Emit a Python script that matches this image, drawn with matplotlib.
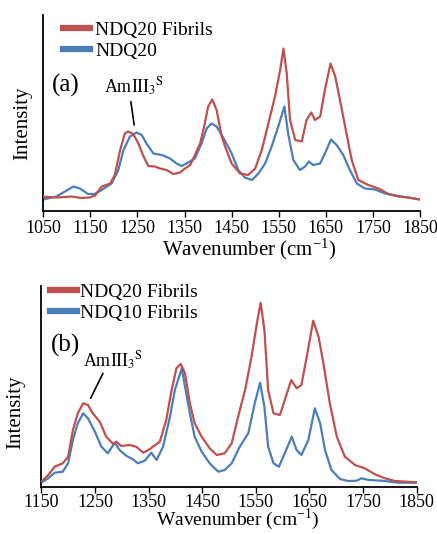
import matplotlib
matplotlib.use("Agg")
import matplotlib.pyplot as plt

plt.rcParams['font.family'] = ['Liberation Serif', 'DejaVu Serif']
plt.rcParams['mathtext.fontset'] = 'stix'

RED = '#C0504D'
BLUE = '#4A7EBB'

# Panel (a): NDQ20 Fibrils vs NDQ20
a_red_x = [1050, 1080, 1110, 1130, 1149, 1160, 1174, 1192, 1202, 1213, 1223, 1230, 1241, 1252, 1262,
           1273, 1287, 1298, 1312, 1326, 1340, 1351, 1362, 1372, 1383, 1393, 1400, 1409, 1418, 1429,
           1436, 1450, 1468, 1485, 1500, 1514, 1528, 1542, 1553, 1560, 1567, 1574, 1585, 1599, 1609,
           1619, 1627, 1638, 1648, 1660, 1670, 1680, 1691, 1705, 1719, 1740, 1762, 1783, 1804, 1825, 1850]
a_red_y = [13.8, 13, 14, 12.5, 13, 15, 24, 27, 35.5, 60, 77, 79, 76.5, 67, 55,
           44.5, 44, 42, 40.5, 36.5, 38, 42, 45.5, 55.5, 67, 87, 104, 111, 100.5, 74,
           64, 47, 37, 35.5, 42, 60.5, 87, 114, 140.5, 162, 137, 90.5, 70.5, 69, 90.5,
           98, 90.5, 94, 120.5, 147, 134, 110.5, 84, 50.5, 30.5, 25.5, 22, 16.5, 14, 13, 11]
a_blue_x = [1050, 1078, 1096, 1114, 1128, 1145, 1159, 1174, 1195, 1209, 1220, 1234, 1248, 1259, 1269,
            1284, 1302, 1319, 1333, 1344, 1358, 1372, 1386, 1397, 1407, 1418, 1432, 1450, 1464, 1478,
            1493, 1507, 1521, 1535, 1549, 1562, 1570, 1581, 1595, 1606, 1614, 1623, 1638, 1648, 1661,
            1673, 1687, 1701, 1716, 1733, 1754, 1776, 1804, 1850]
a_blue_y = [11, 14, 19, 24, 22, 16.5, 16.5, 20.5, 27, 40, 60, 74, 78, 75.5, 67,
            57, 55.5, 52, 47, 44.5, 48, 52, 67, 82, 87, 84, 73, 57, 40.5, 33,
            30.5, 37, 47, 64, 84, 104, 77, 50.5, 40.5, 44, 49, 45.5, 47, 57, 71,
            65.5, 55.5, 40.5, 27, 22, 21, 17, 14.5, 11]

# Panel (b): NDQ20 Fibrils vs NDQ10 Fibrils
b_red_x = [1150, 1163, 1175, 1190, 1200, 1209, 1218, 1228, 1237, 1246, 1259, 1271, 1284, 1290, 1299,
           1315, 1327, 1340, 1352, 1358, 1371, 1383, 1393, 1402, 1410, 1418, 1427, 1436, 1449, 1464,
           1477, 1492, 1505, 1517, 1530, 1542, 1552, 1559, 1566, 1573, 1583, 1595, 1604, 1616, 1626,
           1635, 1645, 1657, 1667, 1676, 1688, 1701, 1716, 1735, 1753, 1772, 1791, 1809, 1831, 1850]
b_red_y = [5, 11.7, 20, 23.4, 30, 56.7, 73.4, 83.4, 81.7, 73.4, 65, 50, 42.7, 45, 40.7,
           41.7, 40, 34, 37.4, 40, 45, 66.7, 96.7, 118.4, 122.7, 113.4, 83.4, 63.4, 50, 38.4,
           31.7, 33.4, 43.4, 70, 96.7, 130, 163.4, 184, 156.7, 96.7, 73.4, 71.7, 86.7, 106.7, 98.4,
           101.7, 130, 166, 150, 123.4, 83.4, 50, 30, 21.7, 18.4, 12.4, 8.4, 5.7, 5, 4.4]
b_blue_x = [1150, 1163, 1175, 1190, 1200, 1209, 1218, 1228, 1237, 1250, 1262, 1274, 1287, 1296, 1309,
            1321, 1330, 1343, 1355, 1365, 1377, 1390, 1399, 1412, 1418, 1427, 1436, 1449, 1464, 1480,
            1492, 1505, 1520, 1536, 1548, 1558, 1566, 1573, 1583, 1593, 1604, 1617, 1626, 1635, 1648,
            1660, 1670, 1679, 1691, 1707, 1722, 1738, 1747, 1760, 1785, 1816, 1850]
b_blue_y = [4, 8.4, 14, 15, 23.4, 46.7, 63.4, 73.4, 68.4, 55, 40, 33.4, 44, 36.7, 30.7,
            27.4, 23.4, 26, 34, 26.7, 40, 70, 96.7, 118.4, 100, 73.4, 50, 35, 23.4, 15,
            16.7, 23.4, 40, 53.4, 83.4, 104, 80, 40, 23.4, 20, 33.4, 50, 36.7, 31.7, 46.7,
            78.4, 63.4, 36.7, 16.7, 7.7, 5.7, 6, 8.4, 6.7, 6, 4, 4]

fig = plt.figure(figsize=(4.37, 5.34), dpi=100)
W, H = 437, 534

def make_ax(left, right, top, bottom):
    return fig.add_axes([left / W, 1 - bottom / H, (right - left) / W, (bottom - top) / H])

TFS = 13

def style(ax, xmin, ticks, ytop, xlab, ylab, lfs, pad):
    ax.set_xlim(xmin, 1850)
    ax.set_ylim(0, ytop)
    ax.set_xticks(ticks)
    ax.set_yticks([])
    for s in ['top', 'right']:
        ax.spines[s].set_visible(False)
    for s in ['left', 'bottom']:
        ax.spines[s].set_linewidth(1.3)
        ax.spines[s].set_color('black')
    ax.tick_params(axis='x', direction='out', length=4, width=1, labelsize=TFS, pad=pad)
    ax.set_xlabel('Wavenumber (cm$^{\\mathregular{-1}}$)', fontsize=lfs, va='center')
    ax.xaxis.set_label_coords(*xlab)
    ax.set_ylabel('Intensity', fontsize=15)
    ax.yaxis.set_label_coords(*ylab)

def px(x, y):
    return (x / W, 1 - y / H)

# (a)
ax1 = make_ax(43.3, 420, 15, 210.5)
l1, = ax1.plot(a_red_x, a_red_y, color=RED, lw=1.6, label='NDQ20 Fibrils', zorder=3)
l2, = ax1.plot(a_blue_x, a_blue_y, color=BLUE, lw=1.6, label='NDQ20', zorder=2)
style(ax1, 1050, list(range(1050, 1851, 100)), 195.5, (0.546, -0.2), (-0.03, 0.445), 15, 3)
leg1 = ax1.legend(handles=[l1, l2], loc='upper left', bbox_to_anchor=px(63, 21),
                  bbox_transform=fig.transFigure, frameon=False, fontsize=14,
                  handlelength=1.4, handletextpad=0.25, labelspacing=0.18, borderpad=0,
                  borderaxespad=0)
for h in leg1.legend_handles:
    h.set_linewidth(4.5)
fig.text(*px(52, 85), '(a)', fontsize=18, va='center', ha='left')
ax1.annotate('', xy=(1243, 85.5), xytext=(1236, 108.8),
             arrowprops=dict(arrowstyle='-', color='black', lw=1.2, shrinkA=0, shrinkB=0))
ax1.text(1243, 117.5, 'AmIII$_3$$^{\\mathrm{S}}$', fontsize=13, ha='center', va='baseline')

# (b)
ax2 = make_ax(41.3, 416.7, 286, 486.7)
m1, = ax2.plot(b_red_x, b_red_y, color=RED, lw=1.6, label='NDQ20 Fibrils', zorder=3)
m2, = ax2.plot(b_blue_x, b_blue_y, color=BLUE, lw=1.6, label='NDQ10 Fibrils', zorder=2)
style(ax2, 1150, list(range(1150, 1851, 100)), 200.7, (0.523, -0.165), (-0.043, 0.37), 14, 1.5)
leg2 = ax2.legend(handles=[m1, m2], loc='upper left', bbox_to_anchor=px(50, 283),
                  bbox_transform=fig.transFigure, frameon=False, fontsize=14,
                  handlelength=1.4, handletextpad=0.12, labelspacing=0.2, borderpad=0,
                  borderaxespad=0)
for h in leg2.legend_handles:
    h.set_linewidth(4.5)
fig.text(*px(51, 345), '(b)', fontsize=18, va='center', ha='left')
ax2.annotate('', xy=(1242, 88.4), xytext=(1265, 113.4),
             arrowprops=dict(arrowstyle='-', color='black', lw=1.2, shrinkA=0, shrinkB=0))
ax2.text(1284, 119.7, 'AmIII$_3$$^{\\mathrm{S}}$', fontsize=13, ha='center', va='baseline')

fig.savefig('out.png', dpi=100)
